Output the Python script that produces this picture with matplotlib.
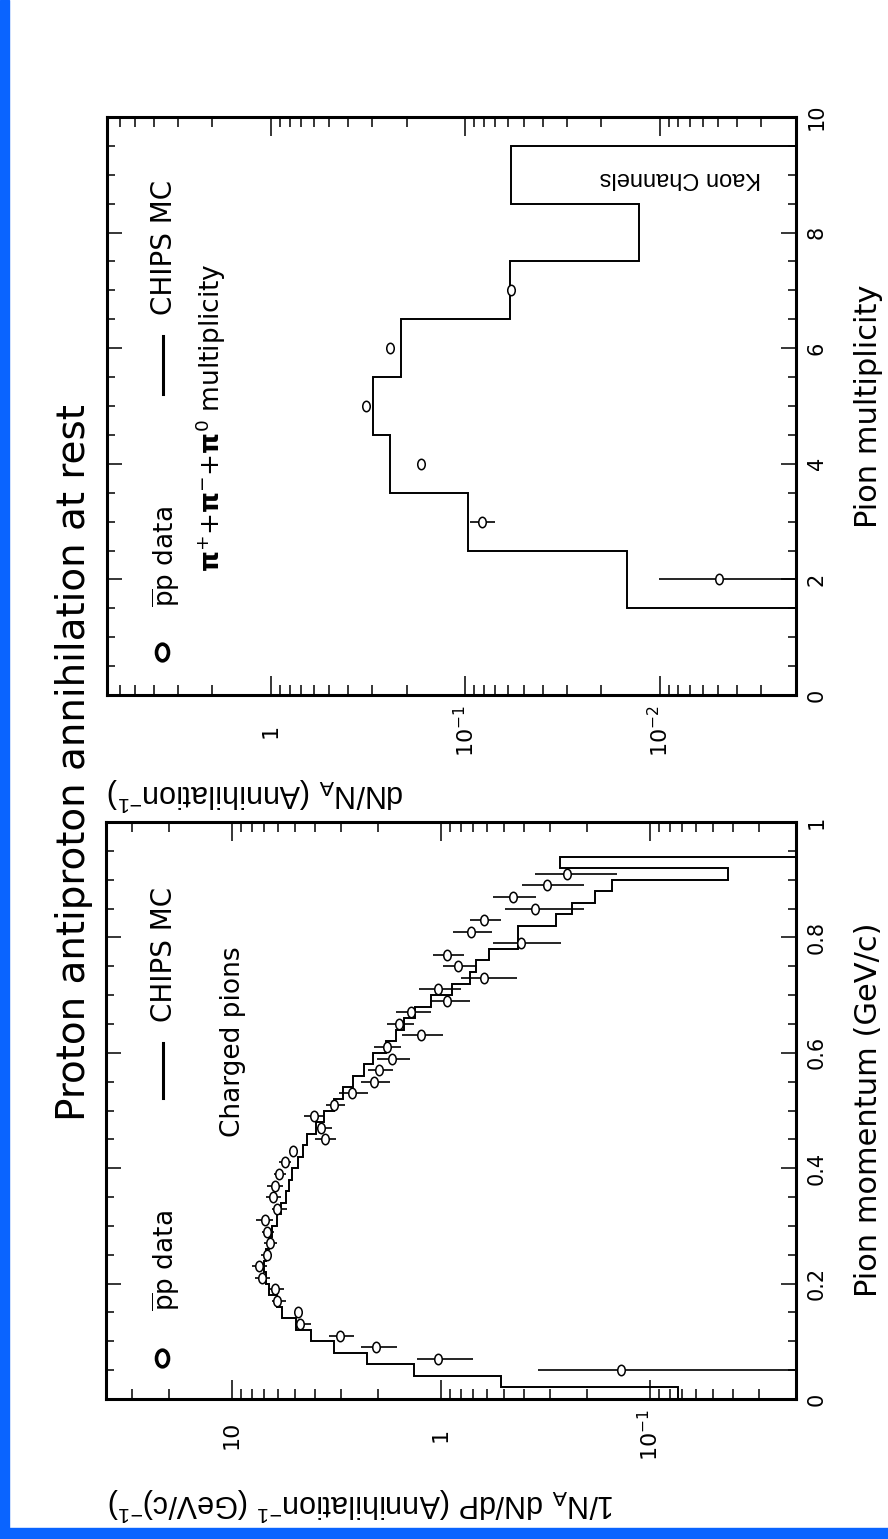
import numpy as np
import matplotlib
matplotlib.use("Agg")
import matplotlib.pyplot as plt
from matplotlib.path import Path
from matplotlib.transforms import Affine2D
from matplotlib.ticker import FixedLocator, LogLocator, MultipleLocator, NullFormatter
from matplotlib.lines import Line2D
from matplotlib.patches import Rectangle

plt.rcParams["font.family"] = ["DejaVu Sans"]
plt.rcParams["mathtext.fontset"] = "dejavusans"
plt.rcParams["axes.unicode_minus"] = False

# ---------------- charged pion momentum spectrum ----------------
mom_edges = [0.00, 0.02, 0.04, 0.06, 0.08, 0.10, 0.12, 0.14, 0.16, 0.18,
             0.20, 0.22, 0.24, 0.26, 0.28, 0.30, 0.32, 0.34, 0.36, 0.38,
             0.40, 0.42, 0.44, 0.46, 0.48, 0.50, 0.52, 0.54, 0.56, 0.58,
             0.60, 0.62, 0.64, 0.66, 0.68, 0.70, 0.72, 0.74, 0.76, 0.78,
             0.80, 0.82, 0.84, 0.86, 0.88, 0.90, 0.92, 0.94]
mom_mc = [0.073, 0.515, 1.34, 2.26, 3.23, 4.17, 4.94, 5.73, 6.06, 6.64,
          6.89, 7.00, 6.90, 6.64, 6.40, 6.06, 5.83, 5.52, 5.32, 5.13,
          4.85, 4.59, 4.35, 3.96, 3.61, 3.23, 2.94, 2.63, 2.32, 2.12,
          1.84, 1.64, 1.50, 1.33, 1.12, 0.887, 0.728, 0.681, 0.586, 0.427,
          0.427, 0.280, 0.236, 0.183, 0.151, 0.0423, 0.268]

mom_p = [0.05, 0.07, 0.09, 0.11, 0.13, 0.15, 0.17, 0.19, 0.21, 0.23,
         0.25, 0.27, 0.29, 0.31, 0.33, 0.35, 0.37, 0.39, 0.41, 0.43,
         0.45, 0.47, 0.49, 0.51, 0.53, 0.55, 0.57, 0.59, 0.61, 0.63,
         0.65, 0.67, 0.69, 0.71, 0.73, 0.75, 0.77, 0.79, 0.81, 0.83,
         0.85, 0.87, 0.89, 0.91]
mom_data = [0.138, 1.03, 2.04, 3.03, 4.71, 4.82, 6.06, 6.24, 7.14, 7.42,
            6.81, 6.59, 6.77, 6.97, 6.06, 6.33, 6.21, 5.94, 5.56, 5.09,
            3.58, 3.75, 4.06, 3.23, 2.65, 2.09, 1.97, 1.72, 1.82, 1.25,
            1.59, 1.39, 0.93, 1.03, 0.619, 0.827, 0.93, 0.414, 0.72, 0.619,
            0.353, 0.453, 0.311, 0.248]
mom_err_lo = [0.01, 0.705, 1.63, 2.59, 4.18, 4.70, 5.52, 5.62, 6.59, 6.77,
              6.40, 6.06, 6.28, 6.35, 5.42, 5.83, 5.72, 5.52, 5.22, 4.82,
              3.17, 3.30, 3.61, 2.89, 2.22, 1.75, 1.70, 1.40, 1.56, 0.979,
              1.35, 1.12, 0.722, 0.804, 0.431, 0.678, 0.779, 0.266, 0.572, 0.516,
              0.206, 0.351, 0.206, 0.144]
mom_err_hi = [0.342, 1.30, 2.40, 3.42, 4.99, 4.95, 6.40, 6.70, 7.76, 7.99,
              7.29, 7.00, 7.15, 7.63, 6.40, 6.89, 6.76, 6.28, 5.94, 5.32,
              4.00, 3.99, 4.50, 3.55, 3.08, 2.40, 2.24, 2.03, 2.08, 1.54,
              1.82, 1.64, 1.13, 1.27, 0.804, 0.979, 1.09, 0.563, 0.877, 0.728,
              0.496, 0.563, 0.410, 0.355]

# ---------------- pion multiplicity ----------------
mult_edges = [1.5, 2.5, 3.5, 4.5, 5.5, 6.5, 7.5, 8.5, 9.5]
mult_mc = [0.0148, 0.0963, 0.244, 0.299, 0.215, 0.0586, 0.0128, 0.0578]

mult_n = [2, 3, 4, 5, 6, 7]
mult_data = [0.00495, 0.0822, 0.169, 0.322, 0.243, 0.0578]
mult_err_lo = [0.001, 0.0703, 0.166, 0.318, 0.239, 0.0545]
mult_err_hi = [0.0101, 0.0944, 0.172, 0.326, 0.247, 0.0612]

mom_ticks = [0, 0.2, 0.4, 0.6, 0.8, 1.0]
mom_ticklabels = ["0", "0.2", "0.4", "0.6", "0.8", "1"]
mult_ticks = [0, 2, 4, 6, 8, 10]
mult_ticklabels = ["0", "2", "4", "6", "8", "10"]
dec_top = [1e-2, 1e-1, 1]
dec_top_labels = [r"$\mathregular{10^{-2}}$", r"$\mathregular{10^{-1}}$", "1"]
dec_bot = [1e-1, 1, 10]
dec_bot_labels = [r"$\mathregular{10^{-1}}$", "1", "10"]

W, H = 888, 1539
fig = plt.figure(figsize=(W / 100, H / 100), dpi=100)
fig.patch.set_facecolor("white")


def fx(x):
    return x / W


def fy(y):
    return 1 - y / H


BLUE = "#0a64ff"
fig.add_artist(Rectangle((0, 0), fx(9), 1, transform=fig.transFigure,
                         color=BLUE, zorder=0))
fig.add_artist(Rectangle((0, 0), 1, 11 / H, transform=fig.transFigure,
                         color=BLUE, zorder=0))

ax_top = fig.add_axes([fx(106.5), fy(695), 689 / W, 578 / H])
ax_bot = fig.add_axes([fx(106), fy(1399), 690 / W, 577 / H])

ellipse = Path(Affine2D().scale(0.72, 1.0).transform(Path.unit_circle().vertices),
               Path.unit_circle().codes)


def frame(ax, vmax, vmin, ymax, yticks, ylabels, yminor, dec, declabels):
    ax.set_xscale("log")
    ax.set_xlim(vmax, vmin)
    ax.set_ylim(0, ymax)
    for s in ax.spines.values():
        s.set_linewidth(2.2)
    ax.xaxis.set_major_locator(FixedLocator(dec))
    ax.xaxis.set_minor_locator(LogLocator(base=10, subs=np.arange(2, 10), numticks=30))
    ax.xaxis.set_minor_formatter(NullFormatter())
    ax.set_xticks(dec, labels=declabels)
    ax.set_yticks(yticks, labels=ylabels)
    ax.yaxis.set_minor_locator(MultipleLocator(yminor))
    ax.tick_params(axis="x", which="both", direction="in", top=True, bottom=True,
                   width=1.1, color="k")
    ax.tick_params(axis="x", which="major", length=14, pad=26, labelsize=16)
    ax.tick_params(axis="x", which="minor", length=7)
    ax.tick_params(axis="y", which="both", direction="in", left=True, right=True,
                   labelleft=False, labelright=True, width=1.1)
    ax.tick_params(axis="y", which="major", length=11, pad=8, labelsize=15)
    ax.tick_params(axis="y", which="minor", length=5.5)
    for t in ax.get_xticklabels():
        t.set_rotation(90)
        t.set_va("center")
        t.set_ha("center")
    for t in ax.get_yticklabels():
        t.set_rotation(90)
        t.set_va("center")
        t.set_ha("left")


def draw(ax, edges, mc, pos, val, lo, hi):
    ax.stairs(mc, edges, orientation="horizontal", baseline=1e-5,
              color="k", lw=1.4, zorder=2)
    val = np.asarray(val)
    xerr = [val - np.asarray(lo), np.asarray(hi) - val]
    ax.errorbar(val, pos, xerr=xerr, fmt="none", ecolor="k", elinewidth=1.2,
                capsize=0, zorder=3)
    ax.plot(val, pos, linestyle="none", marker=ellipse, ms=7.5,
            mfc="white", mec="k", mew=1.1, zorder=4)


frame(ax_top, 7, 2e-3, 10, mult_ticks, mult_ticklabels, 0.5, dec_top, dec_top_labels)
frame(ax_bot, 40, 0.02, 1.0, mom_ticks, mom_ticklabels, 0.05, dec_bot, dec_bot_labels)

draw(ax_top, mult_edges, mult_mc, mult_n, mult_data, mult_err_lo, mult_err_hi)
draw(ax_bot, mom_edges, mom_mc, mom_p, mom_data, mom_err_lo, mom_err_hi)

# title and axis labels
fig.text(fx(74), fy(763), "Proton antiproton annihilation at rest",
         rotation=90, ha="center", va="center", fontsize=28)
fig.text(fx(868), fy(1110), "Pion momentum (GeV/c)",
         rotation=90, ha="center", va="center", fontsize=22)
fig.text(fx(868), fy(406), "Pion multiplicity",
         rotation=90, ha="center", va="center", fontsize=22)
fig.text(fx(107), fy(794), r"dN/N$\mathregular{_A}$ (Annihilation$\mathregular{^{-1}}$)",
         rotation=180, ha="left", va="center", fontsize=22, family="Liberation Sans")
fig.text(fx(108), fy(1504),
         r"1/N$\mathregular{_A}$ dN/dP (Annihilation$\mathregular{^{-1}}$ (GeV/c)$\mathregular{^{-1}}$)",
         rotation=180, ha="left", va="center", fontsize=22, family="Liberation Sans")

# legends
for (my, ty, ly0, ly1, cy) in [(652, 557, 336, 394, 247), (1358, 1261, 1043, 1098, 954)]:
    fig.add_artist(Line2D([fx(162)], [fy(my)], transform=fig.transFigure,
                          linestyle="none", marker=ellipse, ms=12, mfc="white",
                          mec="k", mew=2.6))
    fig.text(fx(166), fy(ty), r"$\mathregular{\overline{p}p}$ data", rotation=90,
             ha="center", va="center", fontsize=19)
    fig.add_artist(Line2D([fx(163), fx(163)], [fy(ly0), fy(ly1)],
                          transform=fig.transFigure, color="k", lw=2.2))
    fig.text(fx(164), fy(cy), "CHIPS MC", rotation=90,
             ha="center", va="center", fontsize=20)

fig.text(fx(211), fy(418),
         r"$\mathbf{\pi}^{+}$+$\mathbf{\pi}^{-}$+$\mathbf{\pi}^{0}$ multiplicity",
         rotation=90, ha="center", va="center", fontsize=19)
fig.text(fx(233), fy(1042), "Charged pions", rotation=90,
         ha="center", va="center", fontsize=19)
fig.text(fx(680), fy(178), "Kaon Channels", rotation=180,
         ha="center", va="center", fontsize=17, family="Liberation Sans")

fig.savefig("out.png", dpi=100)
